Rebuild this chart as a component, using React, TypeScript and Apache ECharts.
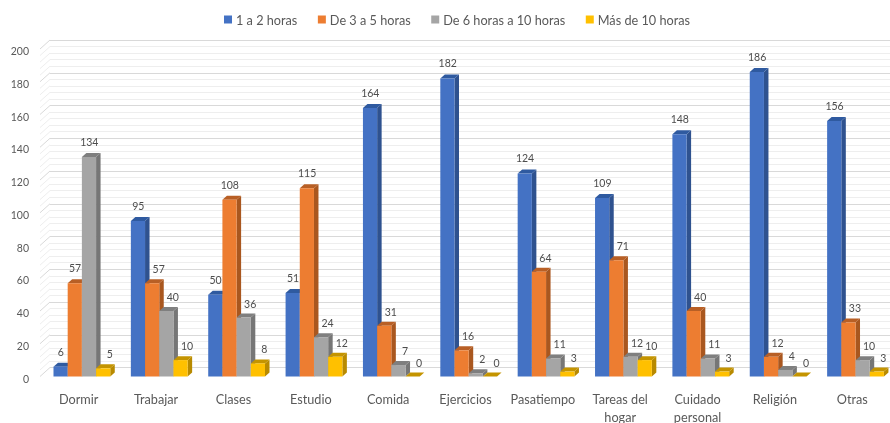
import React, { useEffect, useRef } from "react";
import * as echarts from "echarts";

const categories = ["Dormir", "Trabajar", "Clases", "Estudio", "Comida", "Ejercicios", "Pasatiempo", "Tareas del\nhogar", "Cuidado\npersonal", "Religión", "Otras"];
const seriesNames = ["1 a 2 horas", "De 3 a 5 horas", "De 6 horas a 10 horas", "Más de 10 horas"];
const horas1a2 = [6, 95, 50, 51, 164, 182, 124, 109, 148, 186, 156];
const horas3a5 = [57, 57, 108, 115, 31, 16, 64, 71, 40, 12, 33];
const horas6a10 = [134, 40, 36, 24, 7, 2, 11, 12, 11, 4, 10];
const horasMas10 = [5, 10, 8, 12, 0, 0, 3, 10, 3, 0, 3];
const allSeries = [horas1a2, horas3a5, horas6a10, horasMas10];
const wallTicks = [0, 4, 8, 12, 16, 20, 24, 28, 32, 36, 40, 44, 48, 52, 56, 60, 64, 68, 72, 76, 80, 84, 88, 92, 96, 100, 104, 108, 112, 116, 120, 124, 128, 132, 136, 140, 144, 148, 152, 156, 160, 164, 168, 172, 176, 180, 184, 188, 192, 196, 200];
const fronts = ["#4472C4", "#ED7D31", "#A5A5A5", "#FFC000"];
const sides = ["#2F528F", "#A9571F", "#767676", "#B88A00"];
const tops = ["#2F5AA0", "#B85F25", "#7F7F7F", "#C49400"];

const FONT = "Lato";
const TEXT = "#595959";
const DX = 4.5;
const DY = 4;

function barSeries(name: string, values: number[], k: number) {
  return {
    type: "custom",
    name,
    xAxisIndex: 0,
    yAxisIndex: 0,
    clip: false,
    silent: true,
    encode: { x: 0, y: 1 },
    itemStyle: { color: fronts[k] },
    z: 5,
    data: values.map((v, i) => [i, v]),
    renderItem(_p: any, api: any) {
      const i = api.value(0);
      const v = api.value(1);
      const [cx, top] = api.coord([i, v]);
      const [, base] = api.coord([i, 0]);
      const band = api.size([1, 0])[0];
      const w = band * 0.1835;
      const x0 = cx + 3.2 + (k - 2) * w;
      const x1 = x0 + w;
      // a label moves right when the bar to its left is taller, as in the source chart
      const shifted = k > 0 && allSeries[k - 1][i] > v;
      return {
        type: "group",
        children: [
          { type: "polygon", shape: { points: [[x1, top], [x1 + DX, top - DY], [x1 + DX, base - DY], [x1, base]] }, style: { fill: sides[k] } },
          { type: "polygon", shape: { points: [[x0, top], [x0 + DX, top - DY], [x1 + DX, top - DY], [x1, top]] }, style: { fill: tops[k] } },
          { type: "rect", shape: { x: x0, y: top, width: w, height: base - top }, style: { fill: fronts[k] } },
          {
            type: "text",
            z2: 10,
            style: {
              text: String(v),
              x: x0 + w / 2 + (shifted ? 6.5 : 0.3),
              y: top - (shifted ? 14 : 15),
              align: "center",
              verticalAlign: "middle",
              fill: "#4d4d4d",
              font: `10.5px ${FONT}`,
            },
          },
        ],
      };
    },
  };
}

export default function App() {
  const ref = useRef<HTMLDivElement>(null);
  useEffect(() => {
    document.body.style.margin = "0";
    const chart = echarts.init(ref.current!, undefined, { renderer: "svg" });
    const wallSeries = {
      type: "custom",
      name: "pared",
      xAxisIndex: 0,
      yAxisIndex: 0,
      clip: false,
      silent: true,
      z: 1,
      encode: { y: 0 },
      data: wallTicks.map((t) => [t]),
      renderItem(p: any, api: any) {
        const v = api.value(0);
        const [, y] = api.coord([0, v]);
        const x = p.coordSys.x;
        return {
          type: "line",
          shape: { x1: x, y1: y, x2: x + 10, y2: y - 9 },
          style: { stroke: v % 20 === 0 ? "#D9D9D9" : "#EEEEEE", lineWidth: 1 },
        };
      },
    };
    chart.setOption({
      animation: false,
      backgroundColor: "#ffffff",
      textStyle: { fontFamily: FONT },
      legend: {
        left: 219,
        top: 8,
        icon: "rect",
        itemWidth: 8,
        itemHeight: 8,
        itemGap: 20.5,
        data: seriesNames,
        textStyle: { fontFamily: FONT, fontSize: 12.7, color: TEXT, padding: [0, 0, 0, -1] },
      },
      grid: [
        { left: 40, top: 49, width: 851, height: 327.5, outerBoundsMode: "none" },
        { left: 50, top: 40, width: 841, height: 327.5, outerBoundsMode: "none" },
        { left: 40, top: 51, width: 851, height: 327.5, outerBoundsMode: "none" },
      ],
      xAxis: [
        {
          type: "category",
          gridIndex: 0,
          data: categories,
          axisLine: { show: false },
          axisTick: { show: false },
          axisLabel: { color: TEXT, fontFamily: FONT, fontSize: 12.7, margin: 13, lineHeight: 18, interval: 0 },
        },
        { type: "category", gridIndex: 1, data: categories, show: false },
        { type: "category", gridIndex: 2, data: categories, show: false },
      ],
      yAxis: [
        {
          type: "value",
          gridIndex: 0,
          min: 0,
          max: 200,
          interval: 20,
          axisLine: { show: false },
          axisTick: { show: false },
          splitLine: { show: false },
          axisLabel: { show: false },
        },
        {
          type: "value",
          gridIndex: 1,
          min: 0,
          max: 200,
          interval: 20,
          axisLine: { show: false },
          axisTick: { show: false },
          axisLabel: { show: false },
          splitLine: { show: true, lineStyle: { color: "#D9D9D9", width: 1 } },
          minorTick: { show: false, splitNumber: 5 },
          minorSplitLine: { show: true, lineStyle: { color: "#EEEEEE", width: 1 } },
        },
        {
          type: "value",
          gridIndex: 2,
          min: 0,
          max: 200,
          interval: 20,
          axisLine: { show: false },
          axisTick: { show: false },
          splitLine: { show: false },
          axisLabel: { color: TEXT, fontFamily: FONT, fontSize: 10.5, margin: 11 },
        },
      ],
      series: [
        wallSeries,
        barSeries(seriesNames[0], horas1a2, 0),
        barSeries(seriesNames[1], horas3a5, 1),
        barSeries(seriesNames[2], horas6a10, 2),
        barSeries(seriesNames[3], horasMas10, 3),
      ],
    });
    return () => chart.dispose();
  }, []);
  return <div ref={ref} style={{ width: 890, height: 423, filter: "blur(0.6px)" }} />;
}
